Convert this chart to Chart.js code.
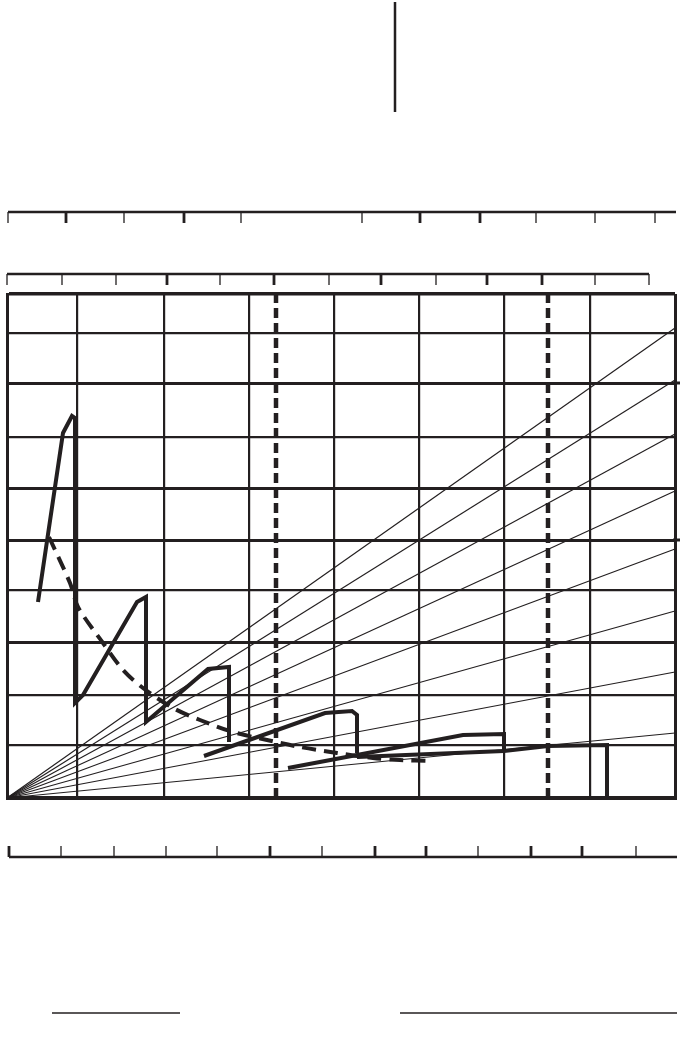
<!DOCTYPE html>
<html>
<head>
<meta charset="utf-8">
<script src="https://cdn.jsdelivr.net/npm/chart.js@4.4.1/dist/chart.umd.min.js"></script>
<style>
  html, body { margin: 0; padding: 0; background: #fff; }
  #wrap { width: 690px; height: 1043px; }
</style>
</head>
<body>
<div id="wrap"><canvas id="fig" width="690" height="1043"></canvas></div>
<script>
// ---------- data (units) ----------
const ink = "#231f20";

// grid of the main plot
const xGrid = [0, 70, 157, 242, 327, 412, 497, 583, 668];
const yGrid = [0, 53, 103, 156, 208, 258, 310, 361, 415, 465, 504];
const yGridBold = [156, 258, 310, 415];
const gridStubs = [258, 415];

// dashed vertical markers
const dashedCols = [269, 541];

// fan of reference lines from the origin, value at right edge
const fanEnds = [470, 418, 364, 307, 249, 187, 126, 65];

// saw-tooth curve (thick solid)
const sawA = [
  {x: 31, y: 196}, {x: 56, y: 365}, {x: 65, y: 382}, {x: 68, y: 380},
  {x: 68, y: 95}, {x: 76, y: 103}, {x: 130, y: 196}, {x: 139, y: 201},
  {x: 139, y: 76}, {x: 201, y: 129}, {x: 222, y: 131}, {x: 222, y: 56}
];
const sawB = [{x: 197, y: 42}, {x: 318, y: 85}, {x: 345, y: 87}, {x: 350, y: 83}, {x: 350, y: 45}];
const sawC = [{x: 281, y: 30}, {x: 456, y: 63}, {x: 497, y: 64}, {x: 497, y: 46}];
const sawD = [{x: 350, y: 41}, {x: 497, y: 47}, {x: 541, y: 52}, {x: 600, y: 53}, {x: 600, y: 0}];

// dashed envelope curve
const envX = [42, 63, 71, 96, 116, 136, 166, 193, 226, 260, 293, 330, 366, 393, 423];
const envY = [261, 215, 191, 155, 128, 110, 90, 78, 66, 58, 51, 45, 40, 38, 37];

// rulers outside the plot
const ruler1 = {y: 586, from: 1, to: 669, ticks: [1, 117, 234, 355, 529, 588, 648], bold: [59, 177, 413, 473]};
const ruler2 = {y: 524, from: 0, to: 642, ticks: [0, 55, 109, 213, 322, 429, 588, 642], bold: [160, 267, 374, 480, 535]};
const ruler3 = {y: -59, from: 2, to: 670, ticks: [54, 107, 159, 210, 315, 471, 629], bold: [2, 263, 368, 419, 524, 575]};
const tickLen = 11;

// loose strokes
const topMark = [{x: 388, y: 796}, {x: 388, y: 686}];
const footLines = [[45, 173], [393, 670]];
const footY = -215;

// ---------- helpers ----------
function line(data, width, extra = {}) {
  return Object.assign({
    data, showLine: true, borderColor: ink, borderWidth: width,
    pointRadius: 0, fill: false, clip: false, tension: 0,
    borderJoinStyle: "miter"
  }, extra);
}

function tickPath(xs, y0, y1) {
  const out = [];
  xs.forEach(x => { out.push({x, y: y0}, {x, y: y1}, {x, y: null}); });
  return out;
}

const datasets = [];

// fan
fanEnds.forEach(v => datasets.push(line([{x: 0, y: 0}, {x: 668, y: v}], 1.2)));

// right-side stubs of bold grid lines
gridStubs.forEach(v => datasets.push(line([{x: 666, y: v}, {x: 673, y: v}], 3)));

// dashed verticals
dashedCols.forEach(x => datasets.push(line([{x, y: 0}, {x, y: 504}], 4.5, {borderDash: [10, 5]})));

// envelope
datasets.push(line(envX.map((x, i) => ({x, y: envY[i]})), 4, {borderDash: [14, 8], tension: 0.3}));

// saw-tooth
[sawA, sawB, sawC, sawD].forEach(p => datasets.push(line(p, 4)));

// rulers
[ruler1, ruler2, ruler3].forEach(r => {
  const dir = r.y > 0 ? -1 : 1;
  datasets.push(line([{x: r.from, y: r.y}, {x: r.to, y: r.y}], 2.5));
  datasets.push(line(tickPath(r.ticks, r.y, r.y + dir * tickLen), 1.3, {spanGaps: false, borderJoinStyle: "bevel"}));
  datasets.push(line(tickPath(r.bold, r.y, r.y + dir * tickLen), 2.8, {spanGaps: false, borderJoinStyle: "bevel"}));
});

datasets.push(line(topMark, 2.5));
footLines.forEach(f => datasets.push(line([{x: f[0], y: footY}, {x: f[1], y: footY}], 1.5)));

// ---------- chart ----------
new Chart(document.getElementById("fig"), {
  type: "scatter",
  data: { datasets },
  options: {
    responsive: false,
    animation: false,
    devicePixelRatio: 1,
    layout: { padding: { left: 7, right: 15, top: 294, bottom: 245 } },
    plugins: { legend: { display: false }, tooltip: { enabled: false } },
    scales: {
      x: {
        type: "linear", min: 0, max: 668,
        afterBuildTicks: s => { s.ticks = xGrid.map(v => ({value: v})); },
        ticks: { display: false },
        grid: { color: ink, lineWidth: c => (c.tick && (c.tick.value === 0 || c.tick.value === 668)) ? 3 : 2.2, drawTicks: false },
        border: { display: true, color: ink, width: 3 }
      },
      y: {
        type: "linear", min: 0, max: 504,
        afterBuildTicks: s => { s.ticks = yGrid.map(v => ({value: v})); },
        ticks: { display: false },
        grid: {
          color: ink, drawTicks: false,
          lineWidth: c => {
            const v = c.tick ? c.tick.value : 0;
            if (v === 504 || v === 0) return 3.5;
            return yGridBold.includes(v) ? 3 : 2.2;
          }
        },
        border: { display: true, color: ink, width: 3 }
      }
    }
  }
});
</script>
</body>
</html>
